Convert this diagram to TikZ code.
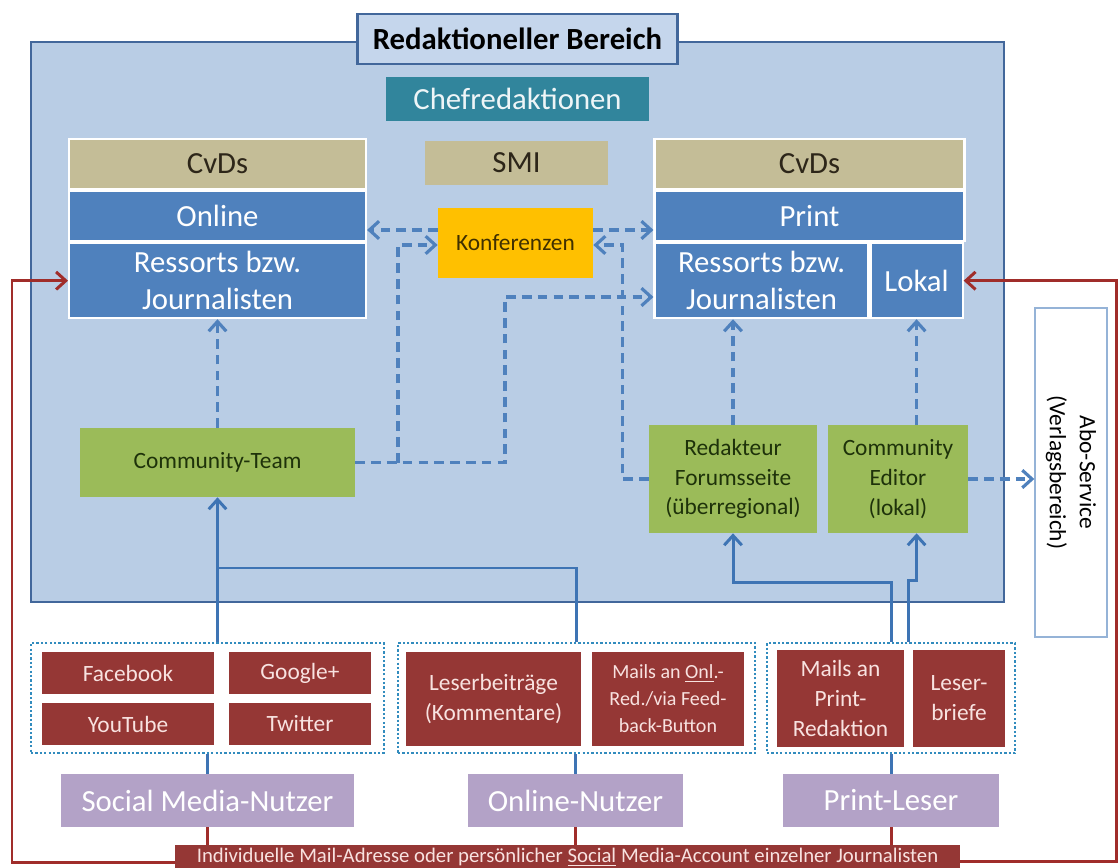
\documentclass[tikz,border=0pt]{standalone}
\usepackage{fontspec}
\setmainfont{Carlito}
\usetikzlibrary{positioning,arrows.meta}

\definecolor{areablue}{RGB}{185,205,229}
\definecolor{areaborder}{RGB}{66,103,155}
\definecolor{headblue}{RGB}{197,214,236}
\definecolor{chefteal}{RGB}{49,133,156}
\definecolor{cvdtan}{RGB}{196,189,151}
\definecolor{tantext}{RGB}{45,38,25}
\definecolor{ressblue}{RGB}{79,129,189}
\definecolor{konfyellow}{RGB}{255,192,0}
\definecolor{konftext}{RGB}{64,48,0}
\definecolor{commgreen}{RGB}{155,187,89}
\definecolor{greentext}{RGB}{30,50,10}
\definecolor{chanred}{RGB}{149,55,53}
\definecolor{chantext}{RGB}{248,226,224}
\definecolor{userlilac}{RGB}{179,162,199}
\definecolor{arrowblue}{RGB}{79,129,189}
\definecolor{lineblue}{RGB}{62,116,180}
\definecolor{linered}{RGB}{160,45,42}
\definecolor{grpteal}{RGB}{50,140,190}
\definecolor{aboborder}{RGB}{149,179,215}

\newcommand\bigtxt{\fontsize{17.5}{21}\selectfont}
\newcommand\midtxt{\fontsize{13.3}{17}\selectfont}
\newcommand\mailtxt{\fontsize{11.4}{15.4}\selectfont}
\newcommand\bartxt{\fontsize{11.8}{13}\selectfont}

\begin{document}
\begin{tikzpicture}[%
    x=0.02cm,y=-0.02cm,>={Straight Barb[length=5.5pt,width=10pt]},
    box/.style={rectangle,inner sep=0pt,align=center},
    framed/.style={draw=white,line width=1.2pt},
    tanbox/.style={box,fill=cvdtan,text=tantext,font=\bigtxt},
    bluebox/.style={box,fill=ressblue,text=white,font=\bigtxt},
    greenbox/.style={box,fill=commgreen,text=greentext,font=\midtxt},
    redbox/.style={box,fill=chanred,text=chantext,font=\midtxt},
    userbox/.style={box,fill=userlilac,text=white,font=\bigtxt},
    grp/.style={box,draw=grpteal,line width=1.6pt,dash pattern=on 1.3pt off 1.2pt},
    bluelink/.style={draw=lineblue,line width=1.7pt},
    redlink/.style={draw=linered,line width=1.7pt},
    dashlink/.style={->,draw=arrowblue,line width=1.8pt,dash pattern=on 5.5pt off 3.5pt}
  ]
    \useasboundingbox (0,0) rectangle (1119,868);

    % Redaktioneller Bereich
    \node[box,fill=areablue,draw=areaborder,line width=1.5pt,minimum width=19.46cm,minimum height=11.2cm] (bereich) at (517.5,322) {};
    \node[box,fill=headblue,draw=areaborder,line width=1.5pt,minimum width=6.4cm,minimum height=1cm,font=\bigtxt\bfseries] (header) at (517.5,39) {Redaktioneller Bereich};
    \node[box,fill=chefteal,text=white!92!chefteal,font=\bigtxt,minimum width=5.26cm,minimum height=0.88cm] (chef) at (517.5,99) {Chefredaktionen};
    \node[tanbox,minimum width=3.66cm,minimum height=0.9cm] (smi) at (516.5,163) {SMI};
    \node[box,fill=konfyellow,text=konftext,font=\midtxt,minimum width=3.1cm,minimum height=1.4cm] (konf) at (515.5,243) {Konferenzen};

    % Online
    \node[tanbox,framed,minimum width=5.94cm,minimum height=1cm] (cvdsL) at (217.5,164) {CvDs};
    \node[bluebox,framed,minimum width=5.94cm,minimum height=1cm] (online) [below=0pt of cvdsL] {Online};
    \node[bluebox,framed,minimum width=5.94cm,minimum height=1.5cm] (ressortsL) [below=0pt of online] {Ressorts bzw.\\Journalisten};

    % Print
    \node[tanbox,framed,minimum width=6.2cm,minimum height=1cm] (cvdsR) at (809.5,164) {CvDs};
    \node[bluebox,framed,minimum width=6.2cm,minimum height=1cm] (print) [below=0pt of cvdsR] {Print};
    \node[bluebox,framed,minimum width=4.28cm,minimum height=1.5cm] (ressortsR) [below right=0pt and 0pt of print.south west] {Ressorts bzw.\\Journalisten};
    \node[bluebox,framed,minimum width=1.84cm,minimum height=1.5cm] (lokal) [right=0pt of ressortsR] {Lokal};

    % Community
    \node[greenbox,minimum width=5.5cm,minimum height=1.38cm] (commteam) at (217.5,462.5) {Community-Team};
    \node[greenbox,minimum width=3.36cm,minimum height=2.16cm] (redakteur) at (733,479) {Redakteur\\Forumsseite\\(überregional)};
    \node[greenbox,minimum width=2.8cm,minimum height=2.16cm] (commeditor) at (898,479) {Community\\Editor\\(lokal)};
    \node[box,fill=white,draw=aboborder,line width=0.8pt,rotate=-90,font=\midtxt,minimum width=6.58cm,minimum height=1.44cm] (abo) at (1071,472.5) {Abo-Service\\(Verlagsbereich)};

    % Kanaele
    \node[grp,minimum width=7.06cm,minimum height=2.2cm] (grpsocial) at (207.5,698) {};
    \node[redbox,minimum width=3.44cm,minimum height=0.84cm] (facebook) at (128,673) {Facebook};
    \node[redbox,minimum width=2.84cm,minimum height=0.84cm] (google) at (300,673) {Google+};
    \node[redbox,minimum width=3.44cm,minimum height=0.84cm] (youtube) at (128,724) {YouTube};
    \node[redbox,minimum width=2.84cm,minimum height=0.84cm] (twitter) at (300,724) {Twitter};

    \node[grp,minimum width=7.14cm,minimum height=2.2cm] (grponline) at (576.5,698) {};
    \node[redbox,minimum width=3.5cm,minimum height=1.88cm] (leserbeitr) at (493.5,699) {Leserbeiträge\\(Kommentare)};
    \node[redbox,font=\mailtxt,minimum width=3.04cm,minimum height=1.88cm] (mailsonl) at (668,699) {Mails an \underline{Onl}.-\\Red./via Feed-\\back-Button};

    \node[grp,minimum width=4.96cm,minimum height=2.2cm] (grpprint) at (891,698) {};
    \node[redbox,minimum width=2.54cm,minimum height=1.94cm] (mailsprint) at (840.5,698.5) {Mails an\\Print-\\Redaktion};
    \node[redbox,minimum width=1.84cm,minimum height=1.94cm] (leserbriefe) at (959,698.5) {Leser-\\briefe};

    % Nutzer
    \node[userbox,minimum width=5.86cm,minimum height=1.06cm] (socialnutzer) at (207.5,800.5) {Social Media-Nutzer};
    \node[userbox,minimum width=4.3cm,minimum height=1.06cm] (onlinenutzer) at (575.5,800.5) {Online-Nutzer};
    \node[userbox,minimum width=4.32cm,minimum height=1.06cm] (printleser) at (891,800.5) {Print-Leser};
    \node[box,fill=chanred,text=chantext,font=\bartxt,minimum width=15.7cm,minimum height=0.5cm] (bar) at (567.5,857.5) {Individuelle Mail-Adresse oder persönlicher \underline{Social} Media-Account einzelner Journalisten};

    % Verbindungen
    \coordinate (redL) at (12,0);
    \coordinate (redR) at (1116,0);
    \coordinate (ctjoin) at (217.5,568);
    \coordinate (ctbend) at (505,297);
    \coordinate (ctbranch) at (398,462.5);
    \coordinate (konfL) at ([yshift=0.26cm]konf.west);
    \coordinate (konfR) at ([yshift=0.26cm]konf.east);

    \draw[bluelink] (socialnutzer.north) -- (socialnutzer.north |- grpsocial.south)
          (onlinenutzer.north) -- (onlinenutzer.north |- grponline.south)
          (printleser.north) -- (printleser.north |- grpprint.south);
    \draw[redlink] (socialnutzer.south) -- (socialnutzer.south |- bar.north)
          (onlinenutzer.south) -- (onlinenutzer.south |- bar.north)
          (printleser.south) -- (printleser.south |- bar.north);
    \draw[redlink,->] ([yshift=-0.1cm]bar.west) -| (redL |- ressortsL.west) -- (ressortsL.west);
    \draw[redlink,->] ([yshift=-0.07cm]bar.east) -| (redR |- lokal.east) -- (lokal.east);

    \draw[bluelink,->] (commteam.south |- grpsocial.north) -- (commteam.south);
    \draw[bluelink] (grponline.north) |- (ctjoin);
    \draw[bluelink,->] (grpprint.north) -- ++(0,-59) -| (redakteur.south);
    \draw[bluelink,->] ([xshift=0.34cm]grpprint.north) -- ++(0,-61) -| (lokal.south |- commeditor.south);

    \path (commteam.north) edge[dashlink] (ressortsL.south)
          (redakteur.north) edge[dashlink] (redakteur.north |- ressortsR.south)
          (lokal.south |- commeditor.north) edge[dashlink] (lokal.south)
          (commeditor.east) edge[dashlink] (commeditor.east -| abo.south)
          (konfL) edge[dashlink] (konfL -| online.east)
          (konfR) edge[dashlink] (konfR -| print.west);
    \draw[dashlink] (commteam.east) -| (ctbend) -- (ctbend -| ressortsR.west);
    \draw[dashlink] (ctbranch) |- ([yshift=-0.04cm]konf.west);
    \draw[dashlink] (redakteur.west) -- ++(-26,0) |- ([yshift=-0.04cm]konf.east);
  \end{tikzpicture}
\end{document}
